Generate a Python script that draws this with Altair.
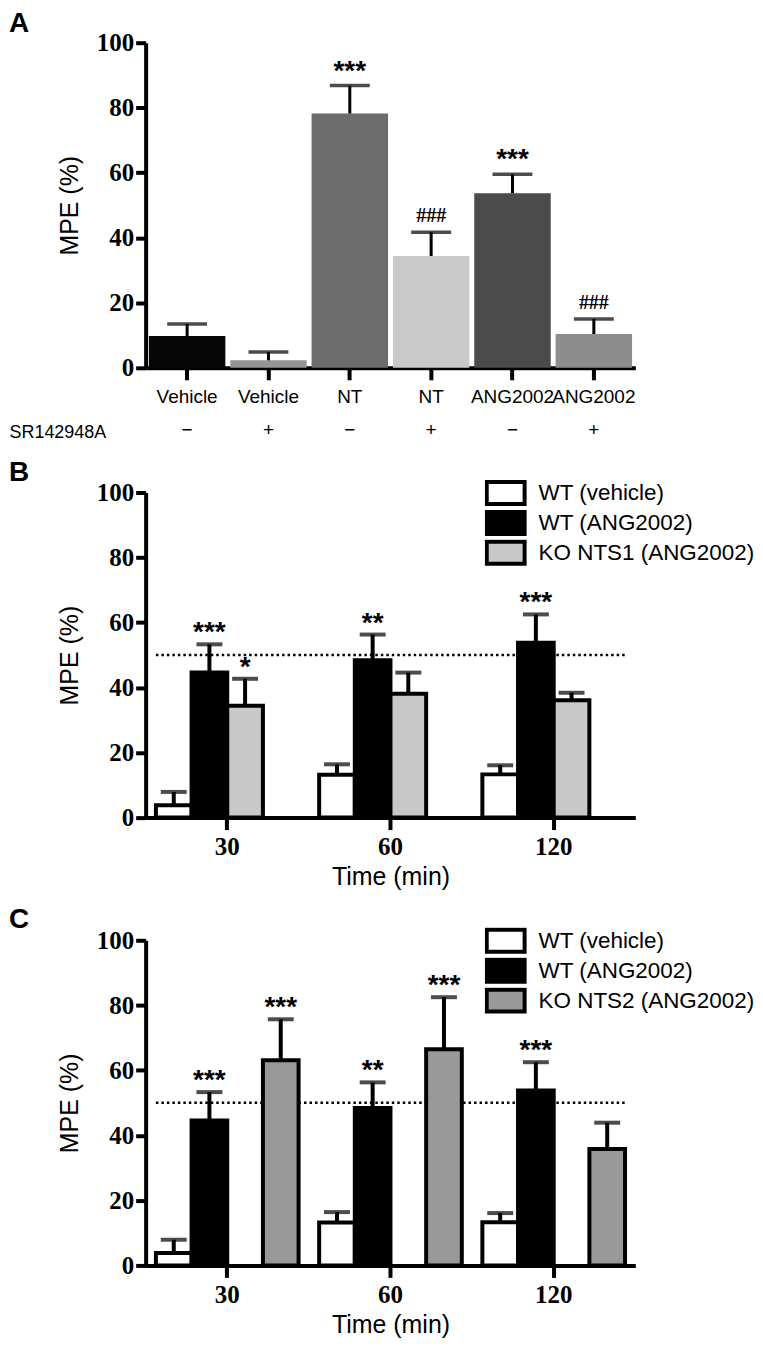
import altair as alt
import pandas as pd

# ---------------- Panel A data ----------------
a_drug = ["Vehicle", "Vehicle", "NT", "NT", "ANG2002", "ANG2002"]
a_sr = ["−", "+", "−", "+", "−", "+"]
a_mean = [9.8, 2.3, 78.2, 34.4, 53.7, 10.4]
a_err = [13.5, 4.9, 86.8, 41.7, 59.5, 15.0]
a_star = ["", "", "***", "", "***", ""]
a_hash = ["", "", "", "###", "", "###"]

# ---------------- Panels B / C data ----------------
times = ["30", "60", "120"]
wt_veh_mean = [3.8, 13.2, 13.3]
wt_veh_err = [7.9, 16.4, 16.1]
wt_veh_sig = ["", "", ""]
wt_ang_mean = [44.6, 48.4, 53.8]
wt_ang_err = [53.3, 56.3, 62.5]
wt_ang_sig = ["***", "**", "***"]
nts1_mean = [34.4, 38.1, 36.1]
nts1_err = [42.7, 44.6, 38.4]
nts1_sig = ["*", "", ""]
nts2_mean = [63.1, 66.5, 35.8]
nts2_err = [75.7, 82.5, 43.9]
nts2_sig = ["***", "***", ""]
threshold = [50]
y_ticks = [0, 20, 40, 60, 80, 100]

# styles
a_colors = ["#060606", "#959595", "#6c6c6c", "#c9c9c9", "#4b4b4b", "#8d8d8d"]
W, H = 491, 326
SANS = "Liberation Sans"
SERIF = "Liberation Serif"


def y_axis():
    return alt.Axis(values=y_ticks, title="MPE (%)", labelFont=SERIF, labelFontWeight="bold",
                    labelFontSize=25, labelPadding=2, tickSize=10, titleFont=SANS,
                    titleFontSize=25, titleFontWeight="normal", titlePadding=14)


def panel_title(letter):
    return alt.Title(letter, anchor="start", frame="group", dx=-137, offset=-7, fontSize=28,
                     font=SANS, fontWeight="bold", color="black")


# ---------------- Panel A ----------------
a_keys = [f"{d}|{s}" for d, s in zip(a_drug, a_sr)]
dfa = pd.DataFrame({"key": a_keys, "mean": a_mean, "err": a_err, "star": a_star, "hash": a_hash})
yA = alt.Y("mean:Q", scale=alt.Scale(domain=[0, 100], nice=False), axis=y_axis())
xA = alt.X("key:N", sort=a_keys,
           scale=alt.Scale(domain=a_keys, paddingInner=0.06, paddingOuter=0.04),
           axis=alt.Axis(labelExpr="split(datum.value, '|')", labelAngle=0, labelAlign="center",
                         labelBaseline="top", labelFont=SANS,
                         labelFontSize=19, labelLineHeight=33, labelPadding=8, tickSize=12,
                         title="SR142948A", titleX=-40, titleY=65, titleAlign="right",
                         titleBaseline="middle", titleFont=SANS, titleFontSize=18,
                         titleFontWeight="normal"))
baseA = alt.Chart(dfa)
barsA = baseA.mark_bar().encode(
    x=xA, y=yA,
    color=alt.Color("key:N", scale=alt.Scale(domain=a_keys, range=a_colors), legend=None))
stemsA = baseA.mark_rule(color="black", strokeWidth=3).encode(x=xA, y="mean:Q", y2="err:Q")
capsA = baseA.mark_tick(color="black", thickness=3.5, size=40).encode(x=xA, y="err:Q")
starsA = baseA.transform_filter("datum.star != ''").mark_text(
    font=SANS, fontSize=28, fontWeight="bold", baseline="alphabetic", dy=-6, color="black"
).encode(x=xA, y="err:Q", text="star:N")
hashA = baseA.transform_filter("datum.hash != ''").mark_text(
    font=SERIF, fontSize=20, fontWeight="bold", baseline="alphabetic", dy=-10, color="black"
).encode(x=xA, y="err:Q", text="hash:N")
chart_a = alt.layer(barsA, stemsA, capsA, starsA, hashA).properties(
    width=W, height=H, title=panel_title("A"))


# ---------------- Panels B / C ----------------
def grouped(letter, ko_name, ko_mean, ko_err, ko_sig, ko_color):
    groups = ["WT (vehicle)", "WT (ANG2002)", ko_name]
    series = [(groups[0], wt_veh_mean, wt_veh_err, wt_veh_sig),
              (groups[1], wt_ang_mean, wt_ang_err, wt_ang_sig),
              (groups[2], ko_mean, ko_err, ko_sig)]
    rows = []
    for g, m, e, s in series:
        for t, mm, ee, ss in zip(times, m, e, s):
            rows.append(dict(time=t, group=g, mean=mm, err=ee, sig=ss))
    df = pd.DataFrame(rows)
    x_axis = alt.Axis(title="Time (min)", labelAngle=0, labelAlign="center", labelBaseline="top",
                      labelFont=SERIF, labelFontWeight="bold", labelFontSize=25, labelPadding=5,
                      tickSize=12, titleFont=SANS, titleFontSize=25,
                      titleFontWeight="normal", titlePadding=5)
    x_scale = alt.Scale(domain=times, paddingInner=0.126, paddingOuter=0.063)
    x = alt.X("time:N", sort=times, scale=x_scale, axis=x_axis)
    xo = alt.XOffset("group:N", sort=groups,
                     scale=alt.Scale(domain=groups, paddingInner=0, paddingOuter=0))
    y = alt.Y("mean:Q", scale=alt.Scale(domain=[0, 100], nice=False), axis=y_axis())
    base = alt.Chart(df)
    stems = base.mark_rule(color="black", strokeWidth=4).encode(
        x=x, xOffset=xo, y="mean:Q", y2="err:Q")
    thr = alt.Chart(pd.DataFrame({"v": threshold})).mark_rule(
        color="black", strokeWidth=2.5, strokeDash=[2.5, 3]
    ).encode(y=alt.Y("v:Q"),
             x=alt.XDatum(times[0], type="nominal", bandPosition=0, scale=x_scale, axis=x_axis),
             x2=alt.X2Datum(times[-1], bandPosition=1))
    bars = base.mark_bar(stroke="black", strokeWidth=4).encode(
        x=x, xOffset=xo, y=y,
        color=alt.Color("group:N", scale=alt.Scale(domain=groups,
                                                   range=["#ffffff", "#000000", ko_color]),
                        legend=alt.Legend(title=None, orient="none", legendX=340, legendY=-13,
                                          symbolType="M-1,-0.58H1V0.58H-1Z", symbolSize=1444,
                                          symbolStrokeColor="black", symbolStrokeWidth=4,
                                          labelFont=SANS, labelFontSize=22.5, labelOffset=12,
                                          labelLimit=400, labelColor="black", rowPadding=3,
                                          clipHeight=27, padding=0)))
    caps = base.mark_tick(color="black", thickness=4, size=26).encode(
        x=x, xOffset=xo, y="err:Q")
    stars = base.transform_filter("datum.sig != ''").mark_text(
        font=SANS, fontSize=28, fontWeight="bold", baseline="alphabetic", dy=-3, color="black"
    ).encode(x=x, xOffset=xo, y="err:Q", text="sig:N")
    return alt.layer(stems, thr, bars, caps, stars).properties(
        width=W, height=H, title=panel_title(letter))


chart_b = grouped("B", "KO NTS1 (ANG2002)", nts1_mean, nts1_err, nts1_sig, "#c8c8c8")
chart_c = grouped("C", "KO NTS2 (ANG2002)", nts2_mean, nts2_err, nts2_sig, "#999999")

chart = alt.vconcat(chart_a, chart_b, chart_c, spacing=17).resolve_scale(
    color="independent"
).properties(
    padding=0
).configure_view(stroke=None).configure_axis(
    domainColor="black", domainWidth=4, tickColor="black", tickWidth=4, grid=False,
    labelColor="black", titleColor="black")

chart.save("out.html", embed_options={"renderer": "svg", "actions": False})
